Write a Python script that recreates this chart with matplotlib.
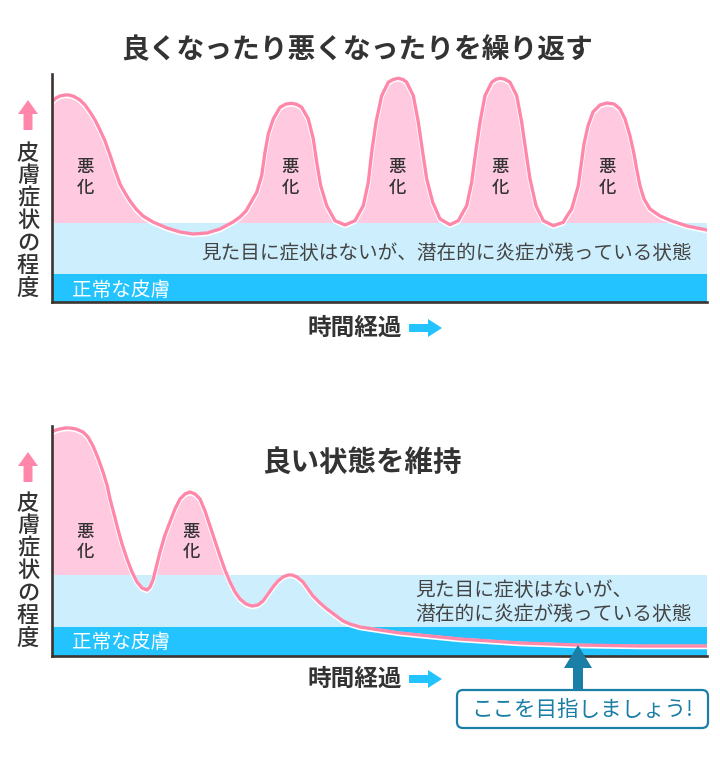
import matplotlib
matplotlib.use("Agg")
import numpy as np
import matplotlib.pyplot as plt
from matplotlib.patches import FancyArrow, FancyBboxPatch
from matplotlib.transforms import offset_copy

plt.rcParams['font.family'] = ['Noto Sans CJK JP', 'DejaVu Sans']

# time runs 0..655 along each panel, level 0 = bottom of the panel
top_time = [0, 4, 8, 13, 17, 22, 28, 33, 38, 43, 48, 53, 58, 63, 68, 73, 78,
            84, 91, 101, 115, 128, 141, 155, 168, 181, 188, 194, 198, 204.7,
            209.7, 213, 216.3, 221.3, 228, 234, 239.7, 245, 249.7, 256.3,
            261.3, 264.7, 268.7, 274.7, 283, 293, 303, 311.3, 316.3, 319.7,
            324, 329.7, 336.3, 341, 346.3, 351, 354.7, 361.3, 366.3, 370.7,
            374.7, 380.7, 388, 398, 406.3, 414.7, 419.7, 423.7, 428, 433,
            439.7, 444, 448.7, 453, 458, 464.7, 469.7, 474, 478, 484,
            491.3, 501.3, 511.3, 515, 519.7, 526.3, 529, 532, 536, 541,
            548, 555, 562, 568, 573, 578, 582, 585, 588, 592,
            598, 608, 620, 635, 655]
top_level = [199.5, 203.5, 205.5, 206.5, 206.5, 205, 201.5, 196.5, 189.5, 181.5,
             171.5, 160.5, 146.5, 131.5, 117.5, 108.5, 100.5, 92.5, 85.5, 79.5,
             73.5, 69.5, 67.5, 68.5, 72.5, 79.5, 84.5, 90.5, 97.5, 109.2,
             125.8, 149.2, 167.5, 182.5, 194.2, 197.5, 198.2, 197, 194.2, 182.5,
             162.5, 139.2, 115.8, 95.8, 80.8, 76.5, 80.8, 95.8, 119.2, 149.2,
             179.2, 205.8, 219.2, 222, 223.2, 222, 219.2, 205.8, 179.2, 149.2,
             122.5, 99.2, 82.5, 76.8, 80.8, 95.8, 119.2, 149.2, 179.2, 205.8,
             219.2, 222.2, 223.2, 222.2, 219.2, 205.8, 179.2, 149.2, 122.5, 95.8,
             80.8, 75.8, 79.2, 85.5, 92.5, 115.8, 135.5, 157.5, 175.5, 189.5,
             196.5, 198.5, 197.5, 192.5, 182.5, 165.5, 147.5, 130.5, 115.5, 102.5,
             92.5, 85.5, 80.5, 75.5, 71.5]

bottom_time = [0, 4, 8, 13, 18, 24, 31, 36, 41, 46, 51, 55, 58, 62, 65, 70, 75,
               80, 85, 90, 95, 98, 101, 104, 108, 113, 118, 123, 128, 133,
               138, 143, 148, 153, 158, 163, 168, 173, 178, 183,
               188, 194, 200, 206, 211, 216, 221, 226, 231, 236,
               240, 245, 251, 256, 261, 268, 275, 283, 291, 298,
               308, 328, 348, 378, 408, 438, 468, 498, 525, 588, 655]
bottom_level = [223, 225, 226, 227, 227, 226, 223, 218, 209, 197,
                183, 170, 156, 141, 129, 111, 96, 83, 73, 67,
                65, 68, 75, 87, 103, 120, 133, 146, 156, 161,
                163, 161, 156, 144, 129, 114, 99, 85, 73, 63,
                56, 51, 49, 50, 54, 61, 68, 74, 78, 80,
                80, 78, 73, 66, 59, 52, 46, 40, 34, 31,
                28, 25, 22, 19, 16, 14, 12, 11, 10, 9, 9]

top_bands = (28.5, 79.5)      # normal skin, latent inflammation
bottom_bands = (29, 81)
top_flare_x = [33, 238, 345, 448, 555]
bottom_flare_x = [33, 139]

PINK = "#ff88aa"
PINK_FILL = "#ffc9e0"
LIGHT_BLUE = "#cceefd"
BLUE = "#22c3ff"
DARK = "#3b3431"
TEXT = "#333333"
CALLOUT = "#1a7ea6"

fig = plt.figure(figsize=(7.2, 7.61), dpi=100)
W, H = 720, 761


def panel(top_px, bottom_px, t, lv, bands, flare_x, flare_y):
    ax = fig.add_axes([52 / W, 1 - bottom_px / H, 655 / W, (bottom_px - top_px) / H])
    t = np.array(t)
    lv = np.array(lv)
    normal, latent = bands
    ax.axhspan(0, normal, color=BLUE, lw=0, zorder=0)
    ax.axhspan(normal, latent, color=LIGHT_BLUE, lw=0, zorder=0)
    ax.fill_between(t, lv, latent, where=lv > latent, interpolate=True,
                    color=PINK_FILL, lw=0, zorder=1)
    ax.plot(t, lv, color="white", lw=3.3, solid_joinstyle="round", zorder=2)
    up = offset_copy(ax.transData, fig=fig, x=0, y=1.0, units="dots")
    ax.plot(t, lv, color=PINK, lw=2.4, solid_joinstyle="round",
            transform=up, zorder=3)
    for x in flare_x:
        ax.text(x, flare_y[0], "悪", ha="center", va="center", fontsize=12.5,
                color=TEXT, fontweight="medium", zorder=4)
        ax.text(x, flare_y[1], "化", ha="center", va="center", fontsize=12.5,
                color=TEXT, fontweight="medium", zorder=4)
    ax.set_xlim(0, 655)
    ax.set_ylim(0, bottom_px - top_px)
    ax.set_xticks([])
    ax.set_yticks([])
    for s in ["top", "right"]:
        ax.spines[s].set_visible(False)
    for s in ["left", "bottom"]:
        ax.spines[s].set_color(DARK)
        ax.spines[s].set_linewidth(1.9)
        ax.spines[s].set_zorder(5)
    ax.patch.set_visible(False)
    return ax


ax1 = panel(74, 302.5, top_time, top_level, top_bands, top_flare_x, (135.5, 114.5))
ax2 = panel(426, 656, bottom_time, bottom_level, bottom_bands, bottom_flare_x, (124, 104))

# overlay in pixel coordinates for titles, labels, arrows
ov = fig.add_axes([0, 0, 1, 1])
ov.set_xlim(0, W)
ov.set_ylim(H, 0)
ov.axis("off")
ov.patch.set_visible(False)

ov.text(357, 50, "良くなったり悪くなったりを繰り返す", ha="center", va="center",
        fontsize=20, fontweight="bold", color=TEXT)
ov.text(362, 463, "良い状態を維持", ha="center", va="center",
        fontsize=20.5, fontweight="bold", color=TEXT)

ylabel = "皮膚症状の程度"
for y0, arrow_y in [(153, 100), (503, 452)]:
    ov.add_patch(FancyArrow(28, arrow_y + 30, 0, -30, width=9, head_width=20,
                            head_length=14, length_includes_head=True,
                            color=PINK, lw=0))
    for i, ch in enumerate(ylabel):
        ov.text(28, y0 + i * 22.6, ch, ha="center", va="center", fontsize=16,
                color=TEXT, fontweight="medium")

for y in [328, 679]:
    ov.text(355, y, "時間経過", ha="center", va="center", fontsize=17,
            fontweight="bold", color=TEXT)
    ov.add_patch(FancyArrow(409, y, 33, 0, width=8, head_width=18,
                            head_length=14, length_includes_head=True,
                            color=BLUE, lw=0))

ov.text(692, 253, "見た目に症状はないが、潜在的に炎症が残っている状態",
        ha="right", va="center", fontsize=14.1, color="#444444")
ov.text(415, 591, "見た目に症状はないが、", ha="left", va="center",
        fontsize=14.2, color="#444444")
ov.text(415, 614, "潜在的に炎症が残っている状態", ha="left", va="center",
        fontsize=14.2, color="#444444")
ov.text(72, 290, "正常な皮膚", ha="left", va="center", fontsize=14.1, color="white")
ov.text(72, 642, "正常な皮膚", ha="left", va="center", fontsize=14.1, color="white")

ov.add_patch(FancyArrow(578, 691, 0, -46, width=10, head_width=28,
                        head_length=23, length_includes_head=True,
                        color=CALLOUT, lw=0))
ov.add_patch(FancyBboxPatch((457, 690), 251, 38,
                            boxstyle="round,pad=0,rounding_size=6",
                            facecolor="white", edgecolor=CALLOUT, lw=1.6))
ov.text(582, 710, "ここを目指しましょう!", ha="center", va="center",
        fontsize=15.5, color=CALLOUT)

fig.savefig("out.png", dpi=100)
